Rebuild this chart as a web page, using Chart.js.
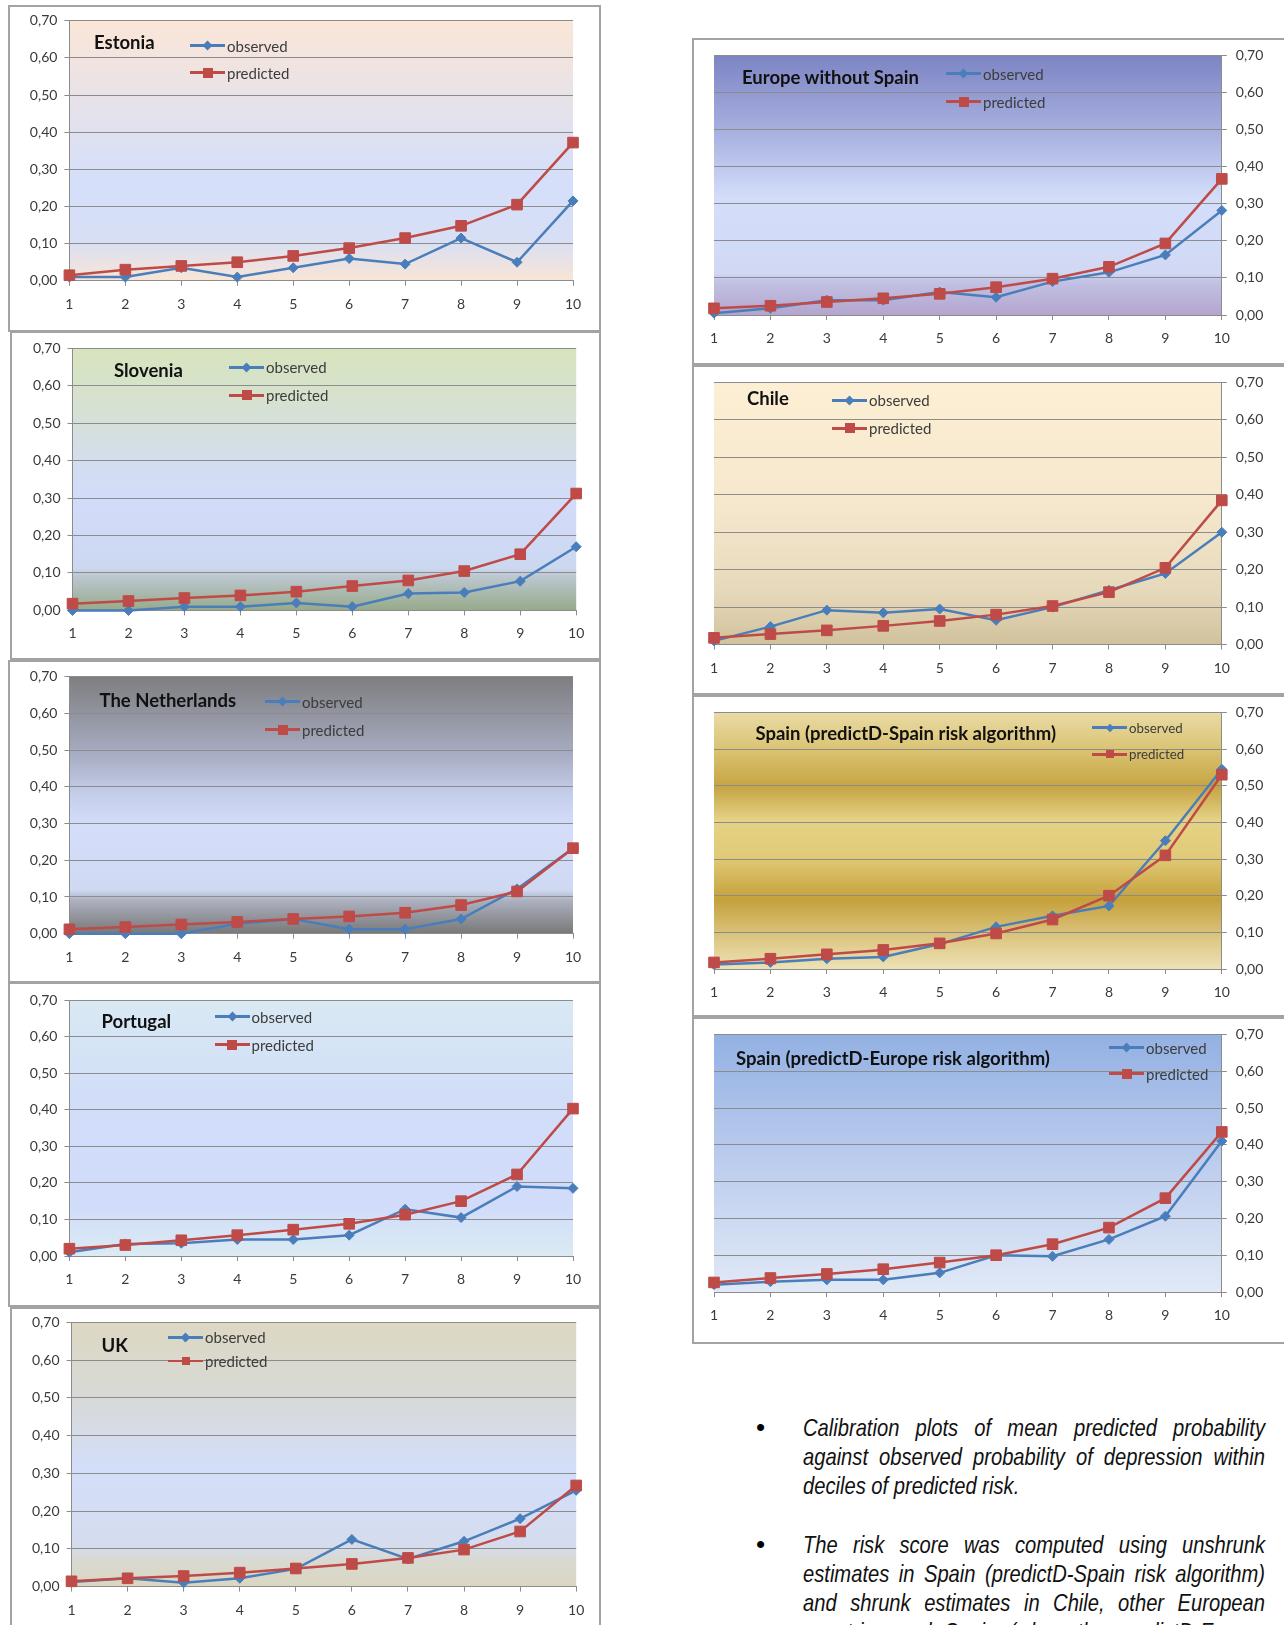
<!DOCTYPE html>
<html>
<head>
<meta charset="utf-8">
<title>Calibration plots</title>
<script src="https://cdn.jsdelivr.net/npm/chart.js@4.4.1/dist/chart.umd.min.js"></script>
<style>
  body { margin: 0; width: 1284px; height: 1625px; overflow: hidden; background: #fff; position: relative; font-family: Lato, "Open Sans", sans-serif; }
  canvas { position: absolute; }
  .frame { position: absolute; border: 2px solid #a3a3a3; box-sizing: border-box; pointer-events: none; }
  .ttl { position: absolute; font-weight: bold; font-size: 18.5px; color: #111; white-space: nowrap; transform: translateY(-50%); }
  .lg { position: absolute; font-size: 15px; color: #3c3c3c; white-space: nowrap; transform: translateY(-50%); display: flex; align-items: center; }
  .lg .ln { display: inline-block; position: relative; width: 35px; height: 3px; margin-right: 2px; }
  .lg .mk { position: absolute; left: 50%; top: 50%; }
  .notes { position: absolute; left: 803px; top: 1413px; font-family: "Liberation Sans", sans-serif; font-style: italic; font-size: 24px; line-height: 29px; color: #111; }
  .notes div { width: 550px; height: 29px; white-space: nowrap; transform: scaleX(0.84); transform-origin: 0 0; }
  .notes .j { text-align: justify; text-align-last: justify; }
  .notes .gap { height: 30px; }
  .bul { position: absolute; left: 756px; font-family: "Liberation Sans", sans-serif; font-size: 26px; line-height: 29px; color: #000; }
</style>
</head>
<body>
<script>
// deciles of predicted risk and y ticks
const deciles = ['1', '2', '3', '4', '5', '6', '7', '8', '9', '10'];
const yTickValues = [0, 0.1, 0.2, 0.3, 0.4, 0.5, 0.6, 0.7];

// observed / predicted probability per decile
const estoniaObserved = [0.010, 0.010, 0.035, 0.010, 0.035, 0.060, 0.045, 0.115, 0.050, 0.215];
const estoniaPredicted = [0.015, 0.030, 0.040, 0.050, 0.067, 0.088, 0.115, 0.148, 0.205, 0.372];

const sloveniaObserved = [0.000, 0.000, 0.010, 0.010, 0.020, 0.010, 0.045, 0.048, 0.078, 0.170];
const sloveniaPredicted = [0.018, 0.025, 0.033, 0.040, 0.050, 0.065, 0.080, 0.105, 0.150, 0.312];

const netherlandsObserved = [0.000, 0.000, 0.000, 0.027, 0.040, 0.012, 0.012, 0.040, 0.122, 0.233];
const netherlandsPredicted = [0.012, 0.018, 0.025, 0.032, 0.040, 0.047, 0.057, 0.078, 0.115, 0.233];

const portugalObserved = [0.010, 0.033, 0.035, 0.045, 0.045, 0.057, 0.128, 0.105, 0.190, 0.185];
const portugalPredicted = [0.020, 0.030, 0.043, 0.057, 0.072, 0.088, 0.113, 0.150, 0.223, 0.403];

const ukObserved = [0.012, 0.022, 0.010, 0.022, 0.047, 0.125, 0.073, 0.120, 0.180, 0.255];
const ukPredicted = [0.014, 0.022, 0.028, 0.037, 0.048, 0.060, 0.076, 0.098, 0.146, 0.268];

const europeObserved = [0.005, 0.018, 0.040, 0.040, 0.062, 0.048, 0.090, 0.115, 0.162, 0.282];
const europePredicted = [0.018, 0.025, 0.035, 0.045, 0.057, 0.075, 0.098, 0.130, 0.193, 0.367];

const chileObserved = [0.010, 0.048, 0.092, 0.085, 0.095, 0.065, 0.100, 0.145, 0.190, 0.300];
const chilePredicted = [0.018, 0.028, 0.038, 0.050, 0.063, 0.080, 0.103, 0.140, 0.205, 0.385];

const spainSpainObserved = [0.012, 0.018, 0.028, 0.033, 0.068, 0.115, 0.145, 0.172, 0.350, 0.545];
const spainSpainPredicted = [0.018, 0.028, 0.040, 0.052, 0.070, 0.097, 0.135, 0.200, 0.310, 0.530];

const spainEuropeObserved = [0.020, 0.028, 0.033, 0.033, 0.052, 0.100, 0.097, 0.143, 0.206, 0.410];
const spainEuropePredicted = [0.026, 0.038, 0.049, 0.062, 0.080, 0.100, 0.130, 0.175, 0.255, 0.435];

const OBS = '#4a7ebb';
const PRED = '#be4b48';
const LEFT_AXIS_W = 50, RIGHT_AXIS_W = 60, X_AXIS_H = 36;

// box: frame [l,t,r,b]; plot: [x of 1, x of 10, y of 0.70, y of 0.00]
// legend: [line x, y observed, y predicted]
const panels = [
  { title: 'Estonia', obs: estoniaObserved, pred: estoniaPredicted, side: 'left',
    box: [8, 5, 601, 332], plot: [69.4, 573, 20.7, 280.8], titleAt: [94, 41.5], legendAt: [190, 45.6, 72.5],
    bg: [[0, '#fbe6d7'], [0.5, '#dbe0f4'], [0.62, '#d5dffa'], [0.84, '#d7dff5'], [1, '#f9e5d6']] },
  { title: 'Slovenia', obs: sloveniaObserved, pred: sloveniaPredicted, side: 'left',
    box: [10, 331, 601, 660], plot: [72.5, 576.2, 348.2, 610.4], titleAt: [114, 370], legendAt: [229, 367, 395],
    bg: [[0, '#d7e4bd'], [0.2, '#d6e1cf'], [0.45, '#d3ddf0'], [0.6, '#d2dcfa'], [0.84, '#ccd7f0'], [0.87, '#bcc7d0'], [1, '#97aa89']] },
  { title: 'The Netherlands', obs: netherlandsObserved, pred: netherlandsPredicted, side: 'left',
    box: [8, 660, 601, 983], plot: [69.4, 573, 676.7, 933.7], titleAt: [99.5, 699.5], legendAt: [265, 701.5, 729.5],
    bg: [[0, '#7e7e80'], [0.3, '#a7acc2'], [0.45, '#c3cce8'], [0.58, '#d4defa'], [0.83, '#cfd9f2'], [0.87, '#adb1c0'], [1, '#787878']] },
  { title: 'Portugal', obs: portugalObserved, pred: portugalPredicted, side: 'left',
    box: [8, 982, 601, 1307], plot: [69.4, 573, 1000, 1256], titleAt: [101.5, 1021], legendAt: [214.5, 1016.6, 1044.6],
    bg: [[0, '#d9e9f3'], [0.4, '#d1ddf9'], [0.8, '#d0dcfa'], [1, '#dbebf3']] },
  { title: 'UK', obs: ukObserved, pred: ukPredicted, side: 'left', thinPred: true,
    box: [10, 1307, 601, 1640], plot: [71.5, 576.2, 1321, 1586.6], titleAt: [101.5, 1345], legendAt: [168, 1337, 1360.7],
    bg: [[0, '#ddd8c3'], [0.28, '#d8d9d6'], [0.55, '#d3defa'], [0.84, '#d5dcee'], [0.9, '#d9d9d2'], [1, '#dad6c1']] },
  { title: 'Europe without Spain', obs: europeObserved, pred: europePredicted, side: 'right',
    box: [692, 38, 1286, 365], plot: [714, 1221.8, 54.9, 315], titleAt: [742, 76.7], legendAt: [946, 73.6, 101.6],
    bg: [[0, '#7c84c3'], [0.15, '#939bd2'], [0.32, '#acb4e2'], [0.55, '#d4defa'], [0.84, '#d0d8f4'], [0.87, '#c3c2e4'], [1, '#b3a5ce']] },
  { title: 'Chile', obs: chileObserved, pred: chilePredicted, side: 'right',
    box: [692, 365, 1286, 695], plot: [714, 1221.8, 382.4, 644.6], titleAt: [747, 398], legendAt: [832, 400, 428],
    bg: [[0, '#fdefd3'], [0.45, '#f5e8cd'], [0.8, '#e6d9bb'], [1, '#d1c19c']] },
  { title: 'Spain (predictD-Spain risk algorithm)', obs: spainSpainObserved, pred: spainSpainPredicted, side: 'right', smallLegend: true,
    box: [692, 695, 1286, 1017], plot: [714, 1221.8, 712, 969], titleAt: [755.5, 732.7], legendAt: [1092, 727.5, 754.4],
    bg: [[0, '#e9dba6'], [0.14, '#dbc474'], [0.29, '#c6a443'], [0.42, '#e5d285'], [0.56, '#e1cb78'], [0.73, '#c5a13b'], [0.87, '#dbc47e'], [1, '#ede2b6']] },
  { title: 'Spain (predictD-Europe risk algorithm)', obs: spainEuropeObserved, pred: spainEuropePredicted, side: 'right',
    box: [692, 1017, 1286, 1344], plot: [714, 1221.8, 1034, 1292], titleAt: [736, 1058], legendAt: [1109, 1047.7, 1073.6],
    bg: [[0, '#93b1e3'], [0.5, '#bccdee'], [1, '#e1e9f6']] }
];

const fmt = v => v.toFixed(2).replace('.', ',');

// gradient behind the plot area
const plotBg = {
  id: 'plotBg',
  beforeDraw(chart, args, opts) {
    const { ctx, chartArea: a } = chart;
    const g = ctx.createLinearGradient(0, a.top, 0, a.bottom);
    opts.stops.forEach(([o, c]) => g.addColorStop(o, c));
    ctx.save();
    ctx.fillStyle = g;
    ctx.fillRect(a.left, a.top, a.right - a.left, a.bottom - a.top);
    ctx.restore();
  }
};

function add(tag, cls, css, text) {
  const el = document.createElement(tag);
  if (cls) el.className = cls;
  if (css) el.style.cssText = css;
  if (text) el.textContent = text;
  document.body.appendChild(el);
  return el;
}

function legendRow(x, y, color, shape, label, small, thin) {
  const row = add('div', 'lg', `left:${x}px;top:${y}px;${small ? 'font-size:13.3px;' : ''}`);
  const ln = document.createElement('span');
  ln.className = 'ln';
  ln.style.background = color;
  if (thin) ln.style.height = '2px';
  const mk = document.createElement('span');
  mk.className = 'mk';
  const s = shape === 'diamond' ? (small ? 6 : 7) : (thin || small ? 8 : 10);
  mk.style.cssText += `width:${s}px;height:${s}px;background:${color};margin-left:${-s / 2}px;margin-top:${-s / 2}px;` +
    (shape === 'diamond' ? 'transform:rotate(45deg);' : '');
  ln.appendChild(mk);
  row.appendChild(ln);
  row.appendChild(document.createTextNode(label));
}

panels.forEach(p => {
  const [bl, bt, br, bb] = p.box;
  const [x1, x10, yTop, yBot] = p.plot;
  const w = br - bl, h = bb - bt;
  const left = p.side === 'left';
  const cv = add('canvas', null, `left:${bl}px;top:${bt}px;width:${w}px;height:${h}px`);
  cv.width = w;
  cv.height = h;

  const pad = {
    left: left ? x1 - bl - LEFT_AXIS_W : x1 - bl,
    right: left ? br - x10 : br - x10 - RIGHT_AXIS_W,
    top: yTop - bt,
    bottom: bb - yBot - X_AXIS_H
  };
  const tickFont = { family: 'Lato', size: 14 };

  new Chart(cv, {
    type: 'line',
    data: {
      labels: deciles,
      datasets: [{
        label: 'observed',
        data: p.obs,
        borderColor: OBS,
        backgroundColor: OBS,
        borderWidth: 2.5,
        pointStyle: 'rectRot',
        pointRadius: 5,
        pointBorderWidth: 1,
        order: 1,
        clip: false
      }, {
        label: 'predicted',
        data: p.pred,
        borderColor: PRED,
        backgroundColor: PRED,
        borderWidth: 2.5,
        pointStyle: 'rect',
        pointRadius: 7.5,
        pointBorderWidth: 1,
        order: 0,
        clip: false
      }]
    },
    options: {
      responsive: false,
      animation: false,
      devicePixelRatio: 1,
      layout: { padding: pad },
      elements: { line: { tension: 0 } },
      plugins: {
        legend: { display: false },
        tooltip: { enabled: false },
        plotBg: { stops: p.bg }
      },
      scales: {
        x: {
          grid: { drawOnChartArea: false, drawTicks: true, tickLength: 5, color: '#8c8c8c' },
          border: { color: '#8c8c8c' },
          ticks: { padding: 10, font: tickFont, color: '#3a3a3a', maxRotation: 0, autoSkip: false },
          afterFit(s) { s.height = X_AXIS_H; }
        },
        y: {
          position: left ? 'left' : 'right',
          min: 0,
          max: 0.7,
          grid: { color: '#8c8c8c', tickLength: 5 },
          border: { color: '#8c8c8c' },
          ticks: { padding: left ? 7 : 9, font: tickFont, color: '#3a3a3a', callback: v => fmt(v) },
          afterBuildTicks(s) { s.ticks = yTickValues.map(v => ({ value: v })); },
          afterFit(s) { s.width = left ? LEFT_AXIS_W : RIGHT_AXIS_W; }
        }
      }
    },
    plugins: [plotBg]
  });

  add('div', 'frame', `left:${bl}px;top:${bt}px;width:${w}px;height:${h}px`);
  add('div', 'ttl', `left:${p.titleAt[0]}px;top:${p.titleAt[1]}px`, p.title);
  const [lx, ly1, ly2] = p.legendAt;
  legendRow(lx, ly1, OBS, 'diamond', 'observed', p.smallLegend, false);
  legendRow(lx, ly2, PRED, 'square', 'predicted', p.smallLegend, p.thinPred);
});

// notes under the right column
const notes = add('div', 'notes');
notes.innerHTML =
  '<div class="j">Calibration plots of mean predicted probability</div>' +
  '<div class="j">against observed probability of depression within</div>' +
  '<div>deciles of predicted risk.</div>' +
  '<div class="gap"></div>' +
  '<div class="j">The risk score was computed using unshrunk</div>' +
  '<div class="j">estimates in Spain (predictD-Spain risk algorithm)</div>' +
  '<div class="j">and shrunk estimates in Chile, other European</div>' +
  '<div class="j">countries and Spain (when the predictD-Europe</div>';
add('div', 'bul', 'top:1413px', '•');
add('div', 'bul', 'top:1530px', '•');
</script>
</body>
</html>
